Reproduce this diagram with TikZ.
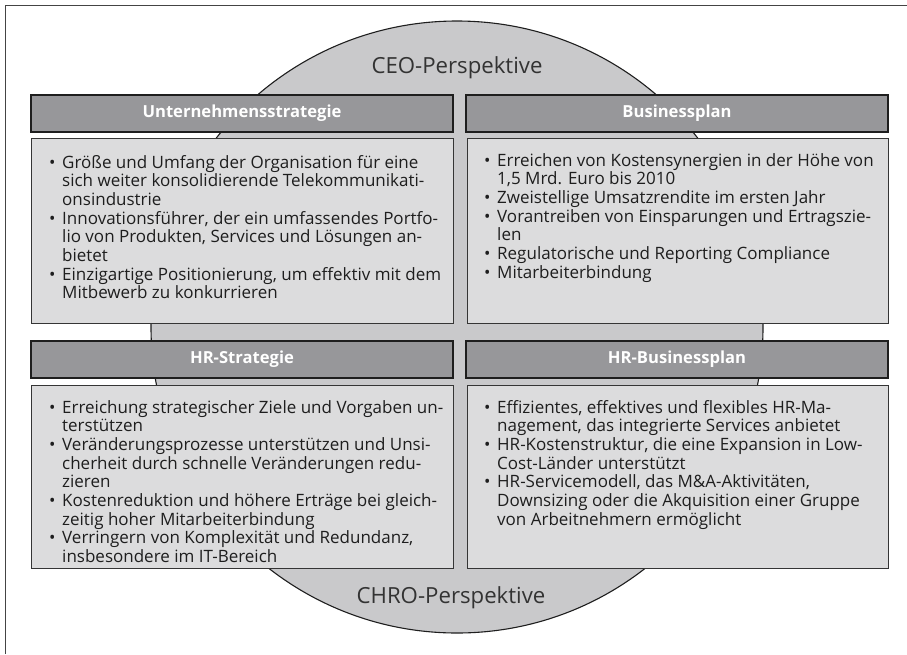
\documentclass[tikz,border=0pt]{standalone}
\usepackage{fontspec}
\usepackage{graphicx}
\setmainfont{Open Sans}
\definecolor{circfill}{HTML}{C9C9CB}
\definecolor{bodyfill}{HTML}{DCDCDD}
\definecolor{headfill}{HTML}{97979A}
\definecolor{inkdark}{HTML}{1E1E1E}
\definecolor{framegray}{HTML}{444444}

\newlength{\bulletind}
\setlength{\bulletind}{20pt}
% one bullet point; \newline gives the printed line breaks inside the point
\newcommand{\bitem}[1]{\par\hangindent=\bulletind\hangafter=1\noindent
  \makebox[\bulletind][c]{\textbullet}#1\par}
\newcommand{\bodytext}[1]{\parbox[t]{430pt}{\fontsize{17}{18.7}\selectfont
  \parindent=0pt\parskip=0pt\hyphenpenalty=10000\exhyphenpenalty=10000
  \let\\\newline #1}}

\tikzset{
  headbox/.style={draw=inkdark, line width=2.4pt, fill=headfill},
  bodybox/.style={draw=inkdark!90, line width=1pt, fill=bodyfill},
  headtext/.style={text=white, font=\fontsize{16.6}{18}\selectfont\bfseries, inner sep=0pt},
  bodynode/.style={anchor=base west, inner sep=0pt, text=inkdark},
  perstext/.style={text=black!80, font=\fontsize{22.2}{24}\selectfont, inner sep=0pt},
}

\begin{document}
\begin{tikzpicture}[x=1pt,y=-1pt]
\useasboundingbox (0,0) rectangle (907,654);

% open frame: top and left edge only
\draw[framegray, line width=1.4pt] (5.5,654) -- (5.5,5.5) -- (907,5.5);

% perspective disc behind the four panels
\node[circle, minimum size=612pt, inner sep=0pt, fill=circfill,
      draw=inkdark, line width=1.1pt] (disc) at (457,327) {};

% panel headers
\node[headbox, minimum width=422pt, minimum height=37pt, inner sep=0pt] (hUS) at (242,113.5) {};
\node[headbox, minimum width=422pt, minimum height=37pt, inner sep=0pt] (hBP) at (677,113.5) {};
\node[headbox, minimum width=422pt, minimum height=37pt, inner sep=0pt] (hHS) at (242,359.5) {};
\node[headbox, minimum width=422pt, minimum height=37pt, inner sep=0pt] (hHB) at (677,359.5) {};
\node[headtext] at (hUS.center) {Unternehmensstrategie};
\node[headtext] at (hBP.center) {Businessplan};
\node[headtext] at (hHS.center) {HR-Strategie};
\node[headtext] at (hHB.center) {HR-Businessplan};

% panel bodies
\draw[bodybox] (31,138) rectangle (453,323);
\draw[bodybox] (467,138) rectangle (888,323);
\draw[bodybox] (31,385) rectangle (453,568);
\draw[bodybox] (467,385) rectangle (888,568);

\node[bodynode] (tUS) at (42,168) {\bodytext{%
\bitem{Größe und Umfang der Organisation für eine\\sich weiter konsolidierende Telekommunikati-\\onsindustrie}
\bitem{Innovationsführer, der ein umfassendes Portfo-\\lio von Produkten, Services und Lösungen an-\\bietet}
\bitem{Einzigartige Positionierung, um effektiv mit dem\\Mitbewerb zu konkurrieren}}};

\node[bodynode] (tBP) at (477,166) {\bodytext{%
\bitem{Erreichen von Kostensynergien in der Höhe von\\1,5 Mrd. Euro bis 2010}
\bitem{Zweistellige Umsatzrendite im ersten Jahr}
\bitem{Vorantreiben von Einsparungen und Ertragszie-\\len}
\bitem{Regulatorische und Reporting Compliance}
\bitem{Mitarbeiterbindung}}};

\node[bodynode] (tHS) at (42,413) {\bodytext{%
\bitem{Erreichung strategischer Ziele und Vorgaben un-\\terstützen}
\bitem{Veränderungsprozesse unterstützen und Unsi-\\cherheit durch schnelle Veränderungen redu-\\zieren}
\bitem{Kostenreduktion und höhere Erträge bei gleich-\\zeitig hoher Mitarbeiterbindung}
\bitem{Verringern von Komplexität und Redundanz,\\insbesondere im IT-Bereich}}};

\node[bodynode] (tHB) at (477,413) {\bodytext{%
\bitem{Effizientes, effektives und flexibles HR-Ma-\\nagement, das integrierte Services anbietet}
\bitem{HR-Kostenstruktur, die eine Expansion in Low-\\Cost-Länder unterstützt}
\bitem{HR-Servicemodell, das M\&A-Aktivitäten,\\Downsizing oder die Akquisition einer Gruppe\\von Arbeitnehmern ermöglicht}}};

% perspective labels
\node[perstext, anchor=base] (ceo) at (457,73) {CEO-Perspektive};
\node[perstext, anchor=base] (chro) at (451,603) {CHRO-Perspektive};
\end{tikzpicture}
\end{document}
